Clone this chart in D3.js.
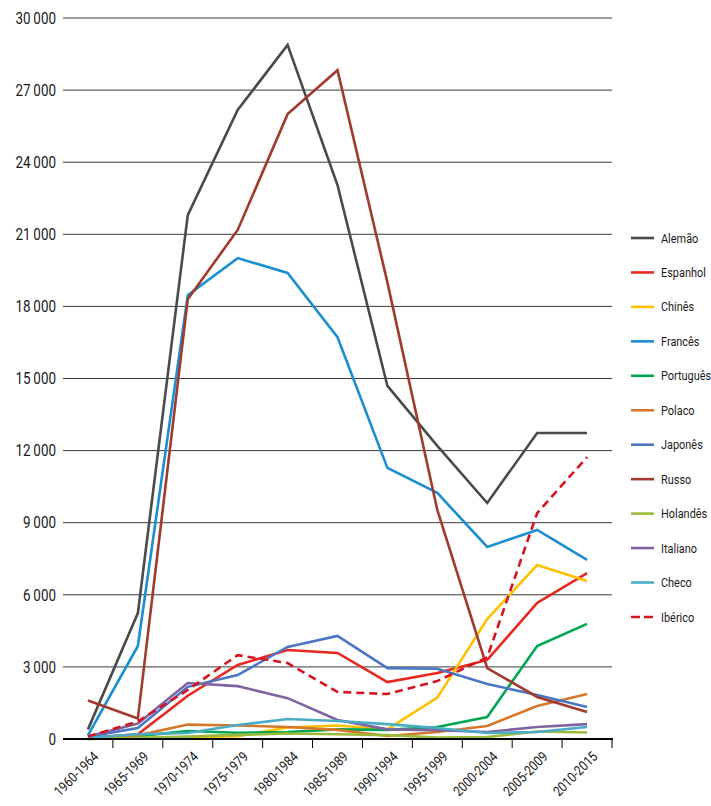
<!DOCTYPE html>
<html>
  <head>
    <meta charset="utf-8">
    <title>Línguas</title>
    <script src="https://d3js.org/d3.v7.min.js"></script>
    <style>
      body { margin: 0; background: #fff; }
      svg { display: block; font-family: Roboto, "DejaVu Sans", sans-serif; }
      .grid line { stroke: #3a3a3a; stroke-width: 1; }
      .ylabel { font-size: 16px; fill: #1a1a1a; }
      .xlabel { font-size: 14px; fill: #1a1a1a; }
      .legend text { font-size: 13px; fill: #1a1a1a; }
      .series { fill: none; stroke-width: 2.6; stroke-linejoin: miter; }
    </style>
  </head>
  <body>
    <div id="chart"></div>
    <script>
      // periods
      const periods = ["1960-1964", "1965-1969", "1970-1974", "1975-1979", "1980-1984", "1985-1989",
        "1990-1994", "1995-1999", "2000-2004", "2005-2009", "2010-2015"];
      const yTicks = [0, 3000, 6000, 9000, 12000, 15000, 18000, 21000, 24000, 27000, 30000];

      // series values, one per period
      const alemao    = [400, 5240, 21800, 26170, 28880, 23050, 14690, 12200, 9820, 12730, 12730];
      const espanhol  = [50, 200, 1800, 3080, 3700, 3580, 2370, 2750, 3290, 5660, 6900];
      const chines    = [0, 30, 80, 120, 480, 560, 400, 1720, 4990, 7240, 6570];
      const frances   = [150, 3870, 18470, 20010, 19390, 16720, 11280, 10240, 7990, 8700, 7450];
      const portugues = [50, 120, 330, 260, 290, 400, 380, 500, 915, 3870, 4790];
      const polaco    = [50, 150, 600, 560, 500, 380, 125, 290, 540, 1370, 1870];
      const japones   = [100, 460, 2170, 2660, 3830, 4290, 2950, 2920, 2290, 1830, 1330];
      const russo     = [1600, 850, 18300, 21180, 26000, 27830, 19000, 9530, 2950, 1750, 1120];
      const holandes  = [0, 50, 100, 170, 230, 200, 160, 60, 80, 310, 270];
      const italiano  = [100, 640, 2330, 2200, 1700, 790, 400, 370, 290, 500, 620];
      const checo     = [50, 200, 250, 580, 830, 750, 620, 460, 250, 290, 500];
      const iberico   = [100, 730, 2040, 3490, 3160, 1960, 1870, 2410, 3400, 9400, 11730];

      const names = ["Alemão", "Espanhol", "Chinês", "Francês", "Português", "Polaco",
        "Japonês", "Russo", "Holandês", "Italiano", "Checo", "Ibérico"];
      const values = [alemao, espanhol, chines, frances, portugues, polaco,
        japones, russo, holandes, italiano, checo, iberico];
      const colors = ["#4a4a4a", "#e8271f", "#ffc000", "#1b8fd2", "#00a651", "#d6782a",
        "#4a76c5", "#a03a2c", "#9bbb3b", "#8064a2", "#4bacc6", "#d6141f"];

      const series = names.map(function(n, i) {
        return { name: n, values: values[i], color: colors[i], dashed: n == "Ibérico" };
      });

      const width = 711, height = 806;
      const margin = { left: 63, right: 612, top: 18, bottom: 739 };
      // fonts here are wider than the original condensed face, so squeeze text horizontally
      const squeeze = "scale(0.84,1)";

      const svg = d3.select("#chart")
        .append("svg")
        .attr("width", width)
        .attr("height", height);

      // scales
      const x = d3.scaleBand()
        .domain(periods)
        .range([margin.left, margin.right]);
      const y = d3.scaleLinear()
        .domain([0, 30000])
        .range([margin.bottom, margin.top]);

      // gridlines + y labels
      const grid = svg.append("g").attr("class", "grid");
      grid.selectAll("line")
          .data(yTicks.filter(function(d) { return d > 0; }))
        .enter().append("line")
          .attr("x1", margin.left)
          .attr("x2", margin.right)
          .attr("y1", function(d) { return y(d); })
          .attr("y2", function(d) { return y(d); });
      svg.selectAll(".ylabel")
          .data(yTicks)
        .enter().append("text")
          .attr("class", "ylabel")
          .attr("transform", function(d) { return "translate(56," + y(d) + ") " + squeeze; })
          .attr("dy", "0.36em")
          .attr("text-anchor", "end")
          .text(function(d) { return d3.format(",")(d).replace(",", "\u2009"); });

      // lines
      const line = d3.line()
        .x(function(d, i) { return x(periods[i]) + x.bandwidth() / 2; })
        .y(function(d) { return y(d); });
      svg.selectAll(".series")
          .data(series)
        .enter().append("path")
          .attr("class", "series")
          .attr("stroke", function(d) { return d.color; })
          .attr("stroke-dasharray", function(d) { return d.dashed ? "8,5" : null; })
          .attr("d", function(d) { return line(d.values); });

      // x axis: baseline with ticks between periods
      const xAxis = svg.append("g")
        .attr("transform", "translate(0," + margin.bottom + ")");
      xAxis.append("line")
        .attr("x1", margin.left)
        .attr("x2", margin.right + 1)
        .attr("stroke", "#000")
        .attr("stroke-width", 2);
      xAxis.selectAll(".tick")
          .data(periods)
        .enter().append("line")
          .attr("x1", function(d) { return x(d) + x.bandwidth(); })
          .attr("x2", function(d) { return x(d) + x.bandwidth(); })
          .attr("y1", 0)
          .attr("y2", 9)
          .attr("stroke", "#000")
          .attr("stroke-width", 1);
      xAxis.selectAll(".xlabel")
          .data(periods)
        .enter().append("text")
          .attr("class", "xlabel")
          .attr("text-anchor", "end")
          .attr("transform", function(d) {
            return "translate(" + (x(d) + x.bandwidth() / 2 + 8) + ",15) rotate(-45) " + squeeze;
          })
          .attr("dy", "0.35em")
          .text(function(d) { return d; });

      // legend
      const legend = svg.append("g")
        .attr("class", "legend")
        .selectAll("g")
          .data(series)
        .enter().append("g")
          .attr("transform", function(d, i) { return "translate(631," + (238 + i * 34.45) + ")"; });
      legend.append("line")
        .attr("x1", 0)
        .attr("x2", 23)
        .attr("stroke", function(d) { return d.color; })
        .attr("stroke-width", 2.6)
        .attr("stroke-dasharray", function(d) { return d.dashed ? "9,4" : null; });
      legend.append("text")
        .attr("transform", "translate(30,0) " + squeeze)
        .attr("dy", "0.35em")
        .text(function(d) { return d.name; });
    </script>
  </body>
</html>
